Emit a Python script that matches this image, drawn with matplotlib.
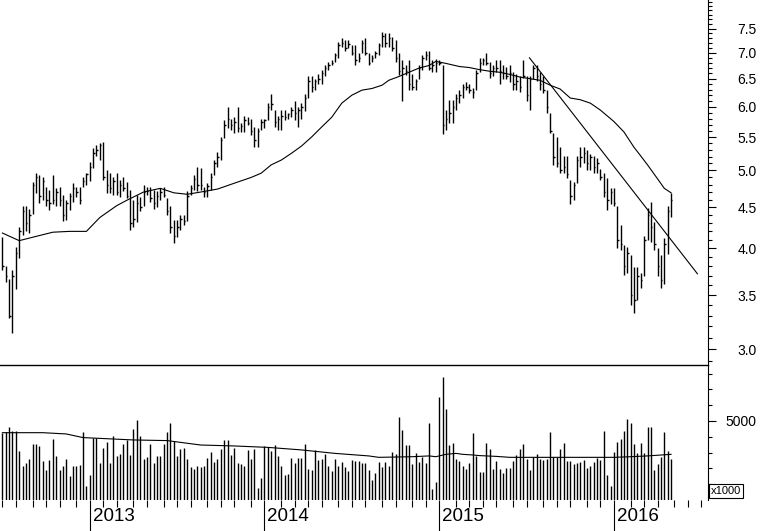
import numpy as np
import pandas as pd
import matplotlib
matplotlib.use('Agg')
import matplotlib.pyplot as plt
import matplotlib.dates as mdates
from matplotlib.ticker import FixedLocator, NullFormatter, FuncFormatter
from matplotlib.transforms import blended_transform_factory, ScaledTranslation

plt.rcParams['font.family'] = ['Liberation Sans', 'DejaVu Sans']

# weekly bars, first one on 2012-07-06
start = '2012-07-06'

high = [4.13, 3.80, 3.67, 3.76, 4.02, 4.25, 4.52, 4.52, 4.48, 4.84,
        4.96, 4.93, 4.90, 4.77, 4.73, 4.93, 4.75, 4.77, 4.66, 4.59,
        4.69, 4.83, 4.77, 4.77, 4.90, 4.96, 5.12, 5.33, 5.38, 5.40,
        5.42, 5.00, 4.96, 4.90, 4.97, 4.86, 4.90, 4.84, 4.73, 4.59,
        4.66, 4.63, 4.79, 4.77, 4.77, 4.73, 4.71, 4.75, 4.77, 4.62,
        4.52, 4.34, 4.34, 4.40, 4.40, 4.71, 4.79, 4.93, 5.05, 5.03,
        4.77, 4.83, 4.96, 5.15, 5.27, 5.50, 5.77, 6.00, 5.80, 5.82,
        6.00, 5.73, 5.85, 5.82, 5.80, 5.66, 5.64, 5.80, 5.80, 6.07,
        6.22, 5.95, 5.85, 5.95, 5.95, 5.90, 6.00, 6.09, 6.00, 6.07,
        6.22, 6.55, 6.55, 6.49, 6.59, 6.66, 6.75, 6.82, 6.85, 6.99,
        7.22, 7.30, 7.25, 7.25, 7.15, 7.15, 6.99, 7.25, 7.30, 6.99,
        6.95, 7.04, 7.20, 7.43, 7.40, 7.40, 7.32, 7.25, 6.99, 6.85,
        6.75, 6.85, 6.59, 6.49, 6.75, 6.95, 7.04, 7.04, 6.85, 6.88,
        6.85, 6.75, 5.95, 6.11, 6.11, 6.22, 6.29, 6.40, 6.44, 6.40,
        6.33, 6.66, 6.90, 6.90, 6.99, 6.82, 6.75, 6.85, 6.85, 6.75,
        6.73, 6.75, 6.62, 6.59, 6.55, 6.85, 6.55, 6.55, 6.75, 6.75,
        6.62, 6.55, 6.29, 5.90, 5.56, 5.50, 5.34, 5.21, 5.21, 4.86,
        4.84, 5.21, 5.34, 5.34, 5.30, 5.24, 5.21, 5.18, 5.02, 4.97,
        4.89, 4.75, 4.75, 4.51, 4.28, 4.04, 4.02, 3.92, 3.79, 3.79,
        3.73, 4.15, 4.49, 4.57, 4.32, 4.01, 3.92, 4.12, 4.52, 4.69]

low = [3.76, 3.63, 3.28, 3.14, 3.56, 3.89, 4.16, 4.21, 4.18, 4.41,
       4.69, 4.56, 4.59, 4.52, 4.47, 4.54, 4.52, 4.52, 4.33, 4.34,
       4.46, 4.57, 4.64, 4.54, 4.77, 4.80, 4.85, 5.04, 5.21, 5.15,
       4.86, 4.69, 4.69, 4.66, 4.66, 4.64, 4.71, 4.62, 4.22, 4.25,
       4.31, 4.45, 4.52, 4.66, 4.57, 4.48, 4.50, 4.59, 4.64, 4.40,
       4.18, 4.06, 4.13, 4.22, 4.28, 4.33, 4.66, 4.73, 4.71, 4.73,
       4.64, 4.64, 4.73, 4.93, 5.05, 5.15, 5.48, 5.64, 5.61, 5.56,
       5.58, 5.58, 5.58, 5.69, 5.54, 5.35, 5.35, 5.61, 5.64, 5.77,
       5.95, 5.66, 5.61, 5.61, 5.77, 5.80, 5.82, 5.77, 5.66, 5.80,
       5.92, 6.15, 6.26, 6.29, 6.40, 6.40, 6.55, 6.66, 6.75, 6.82,
       6.90, 7.12, 7.04, 7.10, 6.95, 6.75, 6.82, 6.99, 6.95, 6.75,
       6.82, 6.90, 6.95, 7.12, 7.12, 7.12, 7.04, 6.82, 6.57, 6.09,
       6.57, 6.29, 6.29, 6.29, 6.49, 6.66, 6.85, 6.66, 6.62, 6.62,
       6.75, 5.55, 5.61, 5.73, 5.73, 5.95, 6.07, 6.15, 6.29, 6.24,
       6.15, 6.29, 6.62, 6.75, 6.75, 6.52, 6.55, 6.62, 6.40, 6.49,
       6.49, 6.44, 6.29, 6.29, 6.26, 6.52, 6.09, 5.95, 6.49, 6.45,
       6.29, 6.24, 5.90, 5.56, 5.08, 5.05, 4.96, 4.97, 4.89, 4.54,
       4.59, 4.82, 5.05, 5.10, 5.00, 5.00, 4.97, 4.96, 4.86, 4.64,
       4.47, 4.54, 4.52, 4.01, 3.98, 3.71, 3.73, 3.40, 3.33, 3.45,
       3.57, 3.70, 4.10, 4.07, 3.98, 3.70, 3.57, 3.61, 3.94, 4.37]

close = [3.80, 3.70, 3.30, 3.70, 3.95, 4.20, 4.45, 4.30, 4.40, 4.80,
         4.90, 4.65, 4.85, 4.60, 4.55, 4.60, 4.70, 4.60, 4.40, 4.55,
         4.65, 4.75, 4.70, 4.60, 4.85, 4.95, 5.05, 5.25, 5.30, 5.38,
         4.90, 4.80, 4.75, 4.85, 4.70, 4.80, 4.75, 4.65, 4.30, 4.35,
         4.55, 4.50, 4.70, 4.72, 4.62, 4.55, 4.65, 4.70, 4.66, 4.45,
         4.25, 4.15, 4.25, 4.35, 4.33, 4.65, 4.75, 4.88, 4.80, 4.80,
         4.70, 4.78, 4.90, 5.10, 5.20, 5.45, 5.70, 5.80, 5.70, 5.75,
         5.65, 5.68, 5.78, 5.72, 5.60, 5.45, 5.60, 5.75, 5.78, 6.00,
         6.05, 5.75, 5.80, 5.85, 5.82, 5.88, 5.95, 5.90, 5.95, 6.00,
         6.15, 6.45, 6.35, 6.45, 6.50, 6.60, 6.70, 6.75, 6.80, 6.95,
         7.15, 7.20, 7.10, 7.18, 7.00, 6.85, 6.90, 7.20, 7.00, 6.80,
         6.90, 7.00, 7.15, 7.35, 7.20, 7.30, 7.10, 6.90, 6.65, 6.70,
         6.65, 6.40, 6.35, 6.45, 6.70, 6.90, 6.95, 6.70, 6.75, 6.80,
         6.80, 5.70, 5.80, 5.90, 6.00, 6.15, 6.20, 6.35, 6.35, 6.30,
         6.25, 6.60, 6.80, 6.85, 6.80, 6.60, 6.70, 6.70, 6.65, 6.60,
         6.55, 6.60, 6.40, 6.45, 6.35, 6.55, 6.20, 6.50, 6.70, 6.55,
         6.40, 6.30, 6.00, 5.60, 5.20, 5.10, 5.00, 5.05, 4.95, 4.65,
         4.80, 5.15, 5.20, 5.25, 5.10, 5.20, 5.05, 5.10, 4.90, 4.70,
         4.60, 4.70, 4.55, 4.10, 4.05, 3.80, 3.95, 3.50, 3.45, 3.70,
         3.65, 4.10, 4.40, 4.25, 4.05, 3.80, 3.65, 4.05, 4.45, 4.60]

volume = [4220, 4325, 4640, 4390, 4390, 3120, 2150, 2320, 2600, 3540,
          3540, 3420, 2470, 1900, 2530, 3860, 2790, 1900, 2150, 2600,
          1520, 2150, 2150, 2215, 4300, 890, 1580, 3900, 3900, 2320,
          3310, 3670, 2360, 4050, 2790, 2910, 3540, 3800, 2850, 4490,
          5060, 4030, 2570, 2700, 3540, 2360, 2790, 2790, 3540, 4300,
          4870, 3730, 2790, 3200, 3290, 2570, 2070, 1980, 2150, 2070,
          2150, 2660, 3020, 2400, 2620, 3250, 3780, 3780, 2850, 3290,
          2320, 2260, 2150, 3170, 2570, 3230, 780, 1390, 3440, 3330,
          3120, 3460, 2790, 2150, 1580, 1650, 2660, 2320, 2640, 2660,
          3520, 1980, 1900, 3170, 2530, 2570, 2930, 2150, 1840, 2570,
          2170, 2400, 2090, 1840, 2530, 2450, 2450, 2320, 2320, 1900,
          1270, 1690,
          2430, 2110, 2430, 2150, 3060, 2890, 5230, 4430, 3480, 3480,
          2280, 2950, 2430, 2740, 2320, 4900, 720, 1140, 6540, 7810,
          5760, 3480, 3630, 2600, 2470, 2150, 1940, 2320, 4260, 2790,
          1790, 1790, 3630, 3200, 1960, 2470, 1940, 1690, 2050, 2050,
          2470, 2850, 3230, 3540, 2570, 1900, 2740, 2910, 2570, 2530,
          2600, 4330, 2700, 2740, 3230, 3630, 2490, 2490, 2280, 2320,
          2380, 2530, 2000, 2150, 2400, 2640, 2530, 4370, 1580, 890,
          3040, 3690, 3860, 4370, 5110, 4900, 3540, 2990, 3630, 2990,
          4600, 4600, 1900, 2280, 2740, 4300, 3100, 2620]

# 30-week price average (bar index, value)
ma_idx = [0, 5, 10, 15, 20, 25, 29, 34, 37, 42, 47, 51, 55, 59, 64, 69,
          74, 77, 80, 83, 86, 89, 92, 95, 98, 101, 104, 107, 110, 113, 115,
          118, 121, 124, 127, 129, 132, 136, 139, 142, 145, 148, 151, 154,
          157, 160, 163, 166, 169, 172, 175, 178, 182, 185, 188, 190, 192,
          195, 197, 199]
ma_val = [4.18, 4.09, 4.14, 4.19, 4.20, 4.20, 4.37, 4.52, 4.59, 4.70, 4.75,
          4.69, 4.67, 4.70, 4.74, 4.82, 4.90, 4.96, 5.08, 5.15, 5.25, 5.36,
          5.50, 5.66, 5.82, 6.06, 6.20, 6.29, 6.32, 6.38, 6.47, 6.54, 6.62,
          6.70, 6.75, 6.83, 6.79, 6.73, 6.71, 6.67, 6.64, 6.62, 6.58, 6.53,
          6.50, 6.47, 6.38, 6.31, 6.15, 6.12, 6.06, 5.94, 5.75, 5.58, 5.34,
          5.21, 5.08, 4.88, 4.75, 4.69]

# volume average (bar index, value)
vma_idx = [0, 12, 19, 24, 29, 39, 49, 59, 69, 79, 89, 99, 109, 112, 122,
           127, 129, 132, 135, 137, 140, 142, 147, 151, 162, 172, 182, 187,
           192, 199]
vma_val = [4260, 4260, 4180, 3950, 3900, 3800, 3760, 3480, 3420, 3330, 3170,
           2950, 2790, 2700, 2740, 2790, 2740, 2890, 2950, 2890, 2850, 2810,
           2760, 2700, 2700, 2700, 2700, 2740, 2790, 2890]

trend_dates = ['2015-07-09', '2016-06-23']
trend_vals = [6.90, 3.72]

price_ticks = [3.0, 3.5, 4.0, 4.5, 5.0, 5.5, 6.0, 6.5, 7.0, 7.5]
years = [2013, 2014, 2015, 2016]

dates = pd.date_range(start, periods=len(high), freq='7D')
x = mdates.date2num(dates)

W, H = 760, 531
fig = plt.figure(figsize=(W / 100, H / 100), dpi=100)
axv = fig.add_axes([0, 1 - 500 / H, 708 / W, 135 / H])
ax = fig.add_axes([0, 1 - 365 / H, 708 / W, 365 / H], sharex=axv)
ax.patch.set_visible(False)
axv.patch.set_visible(False)

# price bars
ax.vlines(x, low, high, color='black', lw=1.0)
ax.hlines(close, x, x + 3, color='black', lw=1.0)
ax.plot(x[ma_idx], ma_val, color='black', lw=0.8)
ax.plot(mdates.date2num(pd.to_datetime(trend_dates)), trend_vals, color='black', lw=0.8)

ax.set_yscale('log')
ax.set_ylim(2.866, 8.14)
ax.set_xlim(mdates.date2num(pd.Timestamp('2012-07-01')),
            mdates.date2num(pd.Timestamp('2016-07-15')))
ax.yaxis.tick_right()
ax.yaxis.set_major_locator(FixedLocator(price_ticks))
ax.yaxis.set_minor_locator(FixedLocator(np.round(np.arange(2.9, 8.15, 0.1), 2)))
ax.yaxis.set_major_formatter(FuncFormatter(lambda v, p: f'{v:.1f}'))
ax.yaxis.set_minor_formatter(NullFormatter())
ax.tick_params(axis='y', which='major', length=6, width=0.8, labelsize=10, pad=29)
ax.tick_params(axis='y', which='minor', length=3, width=0.8)
for t in ax.yaxis.get_major_ticks():
    t.label2.set_horizontalalignment('right')
ax.tick_params(axis='x', which='both', bottom=False, labelbottom=False)
for s in ['top', 'left']:
    ax.spines[s].set_visible(False)
ax.spines['right'].set_linewidth(0.8)
ax.spines['bottom'].set_linewidth(1.0)
ax.spines['bottom'].set_color('black')

# volume
axv.vlines(x, 0, volume, color='black', lw=1.0)
axv.plot(x[vma_idx], vma_val, color='black', lw=0.8)
axv.set_ylim(0, 8544)
axv.yaxis.tick_right()
axv.yaxis.set_major_locator(FixedLocator([5000]))
axv.yaxis.set_minor_locator(FixedLocator([1000, 2000, 3000, 4000, 6000, 7000, 8000]))
axv.yaxis.set_minor_formatter(NullFormatter())
axv.tick_params(axis='y', which='major', length=6, width=0.8, labelsize=10, pad=29)
axv.tick_params(axis='y', which='minor', length=3, width=0.8)
for t in axv.yaxis.get_major_ticks():
    t.label2.set_horizontalalignment('right')
for s in ['top', 'left', 'bottom']:
    axv.spines[s].set_visible(False)
axv.spines['right'].set_linewidth(0.8)

# x axis: year lines and month ticks at first bar of each period
tick_weeks = pd.date_range(start, '2016-07-15', freq='7D')
tw = pd.Series(tick_weeks, index=tick_weeks)
month_first = tw.groupby([tw.index.year, tw.index.month]).first().values
year_first = tw.groupby(tw.index.year).first()
year_first = year_first[year_first.index.isin(years)].values
axv.xaxis.set_major_locator(FixedLocator(mdates.date2num(pd.to_datetime(year_first))))
axv.xaxis.set_minor_locator(FixedLocator(mdates.date2num(pd.to_datetime(month_first))))
axv.xaxis.set_major_formatter(NullFormatter())
axv.tick_params(axis='x', which='major', length=22.5, width=0.8, direction='out')
axv.tick_params(axis='x', which='minor', length=5, width=0.8, direction='out')

tr = blended_transform_factory(axv.transData, axv.transAxes) + \
    ScaledTranslation(3 / 100, 0, fig.dpi_scale_trans)
for yr, d in zip(years, year_first):
    axv.text(mdates.date2num(pd.Timestamp(d)), -0.06, str(yr), transform=tr,
             ha='left', va='top', fontsize=13.5)

fig.text(711 / W, 1 - 491 / H, 'x1000', fontsize=8, ha='left', va='center',
         bbox=dict(boxstyle='square,pad=0.15', fc='white', ec='black', lw=0.8))

fig.savefig('out.png', dpi=100)
